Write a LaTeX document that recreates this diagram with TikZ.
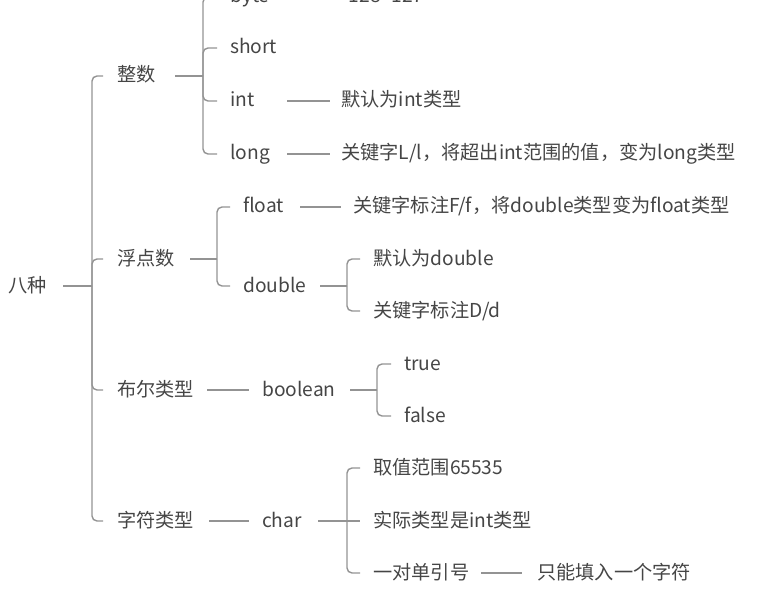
\documentclass[tikz,border=0pt]{standalone}
\usepackage{fontspec}
\setmainfont{Noto Sans CJK SC}
\definecolor{txtc}{HTML}{454545}
\definecolor{linec}{HTML}{939393}
\begin{document}
\begin{tikzpicture}[x=1pt,y=-1pt,
  lbl/.style={anchor=west, inner sep=0pt, text=txtc, font=\fontsize{19.2}{23}\selectfont, text height=14pt, text depth=2pt},
  ln/.style={draw=linec, line width=1.4pt},
  br/.style={ln, rounded corners=5pt}]
\useasboundingbox (0,0) rectangle (769,599);
\clip (0,0) rectangle (769,599);
% nodes
\node[lbl] (root) at (8,286) {八种};
\node[lbl] (zs) at (117,76) {整数};
\node[lbl] (fd) at (117,259) {浮点数};
\node[lbl] (be) at (117,390) {布尔类型};
\node[lbl] (zf) at (117,521) {字符类型};
\node[lbl] (byte) at (230,-3) {byte};
\node[lbl] (byted) at (342,-3) {-128{\char"7E}127};
\node[lbl] (short) at (230,48) {short};
\node[lbl] (int) at (230,101) {int};
\node[lbl] (intd) at (341,101) {默认为int类型};
\node[lbl] (long) at (230,154) {long};
\node[lbl] (longd) at (341,154) {关键字L/l，将超出int范围的值，变为long类型};
\node[lbl] (float) at (243,207) {float};
\node[lbl] (floatd) at (353,207) {关键字标注F/f，将double类型变为float类型};
\node[lbl] (double) at (243,286) {double};
\node[lbl] (dba) at (373,259) {默认为double};
\node[lbl] (dbb) at (373,311) {关键字标注D/d};
\node[lbl] (bool) at (262,390) {boolean};
\node[lbl] (tr) at (404,364) {true};
\node[lbl] (fa) at (404,416) {false};
\node[lbl] (ch) at (262,521) {char};
\node[lbl] (cha) at (373,468) {取值范围65535};
\node[lbl] (chb) at (373,521) {实际类型是int类型};
\node[lbl] (chc) at (373,573) {一对单引号};
\node[lbl] (chd) at (537,573) {只能填入一个字符};
% junctions
\coordinate (j0) at (92,286);
\coordinate (j1) at (203,76);
\coordinate (j2) at (217,259);
\coordinate (j3) at (347,286);
\coordinate (j4) at (377,390);
\coordinate (j5) at (347,521);
% root
\draw[ln] ([xshift=55pt]root.west) -- (j0);
\foreach \c in {zs,fd,be,zf} \draw[br] (j0) |- ([xshift=-14pt]\c.west);
% integers
\draw[ln, line width=2pt] ([xshift=58pt]zs.west) -- (j1);
\foreach \c in {byte,short,int,long} \draw[br] (j1) |- ([xshift=-13pt]\c.west);
\draw[ln] ([xshift=55pt]byte.west) -- ([xshift=-12pt]byted.west);
\draw[ln] ([xshift=57pt]int.west) -- ([xshift=-11pt]intd.west);
\draw[ln] ([xshift=57pt]long.west) -- ([xshift=-11pt]longd.west);
% floats
\draw[ln] ([xshift=73pt]fd.west) -- (j2);
\foreach \c in {float,double} \draw[br] (j2) |- ([xshift=-13pt]\c.west);
\draw[ln] ([xshift=57pt]float.west) -- ([xshift=-12pt]floatd.west);
\draw[ln] ([xshift=77pt]double.west) -- (j3);
\foreach \c in {dba,dbb} \draw[br] (j3) |- ([xshift=-13pt]\c.west);
% boolean
\draw[ln] ([xshift=90pt]be.west) -- ([xshift=-13pt]bool.west);
\draw[ln] ([xshift=88pt]bool.west) -- (j4);
\foreach \c in {tr,fa} \draw[br] (j4) |- ([xshift=-13pt]\c.west);
% char
\draw[ln] ([xshift=92pt]zf.west) -- ([xshift=-13pt]ch.west);
\draw[ln] ([xshift=56pt]ch.west) -- (j5);
\foreach \c in {cha,chc} \draw[br] (j5) |- ([xshift=-13pt]\c.west);
\draw[ln] (j5) -- ([xshift=-13pt]chb.west);
\draw[ln] ([xshift=108pt]chc.west) -- ([xshift=-15pt]chd.west);
\end{tikzpicture}
\end{document}
